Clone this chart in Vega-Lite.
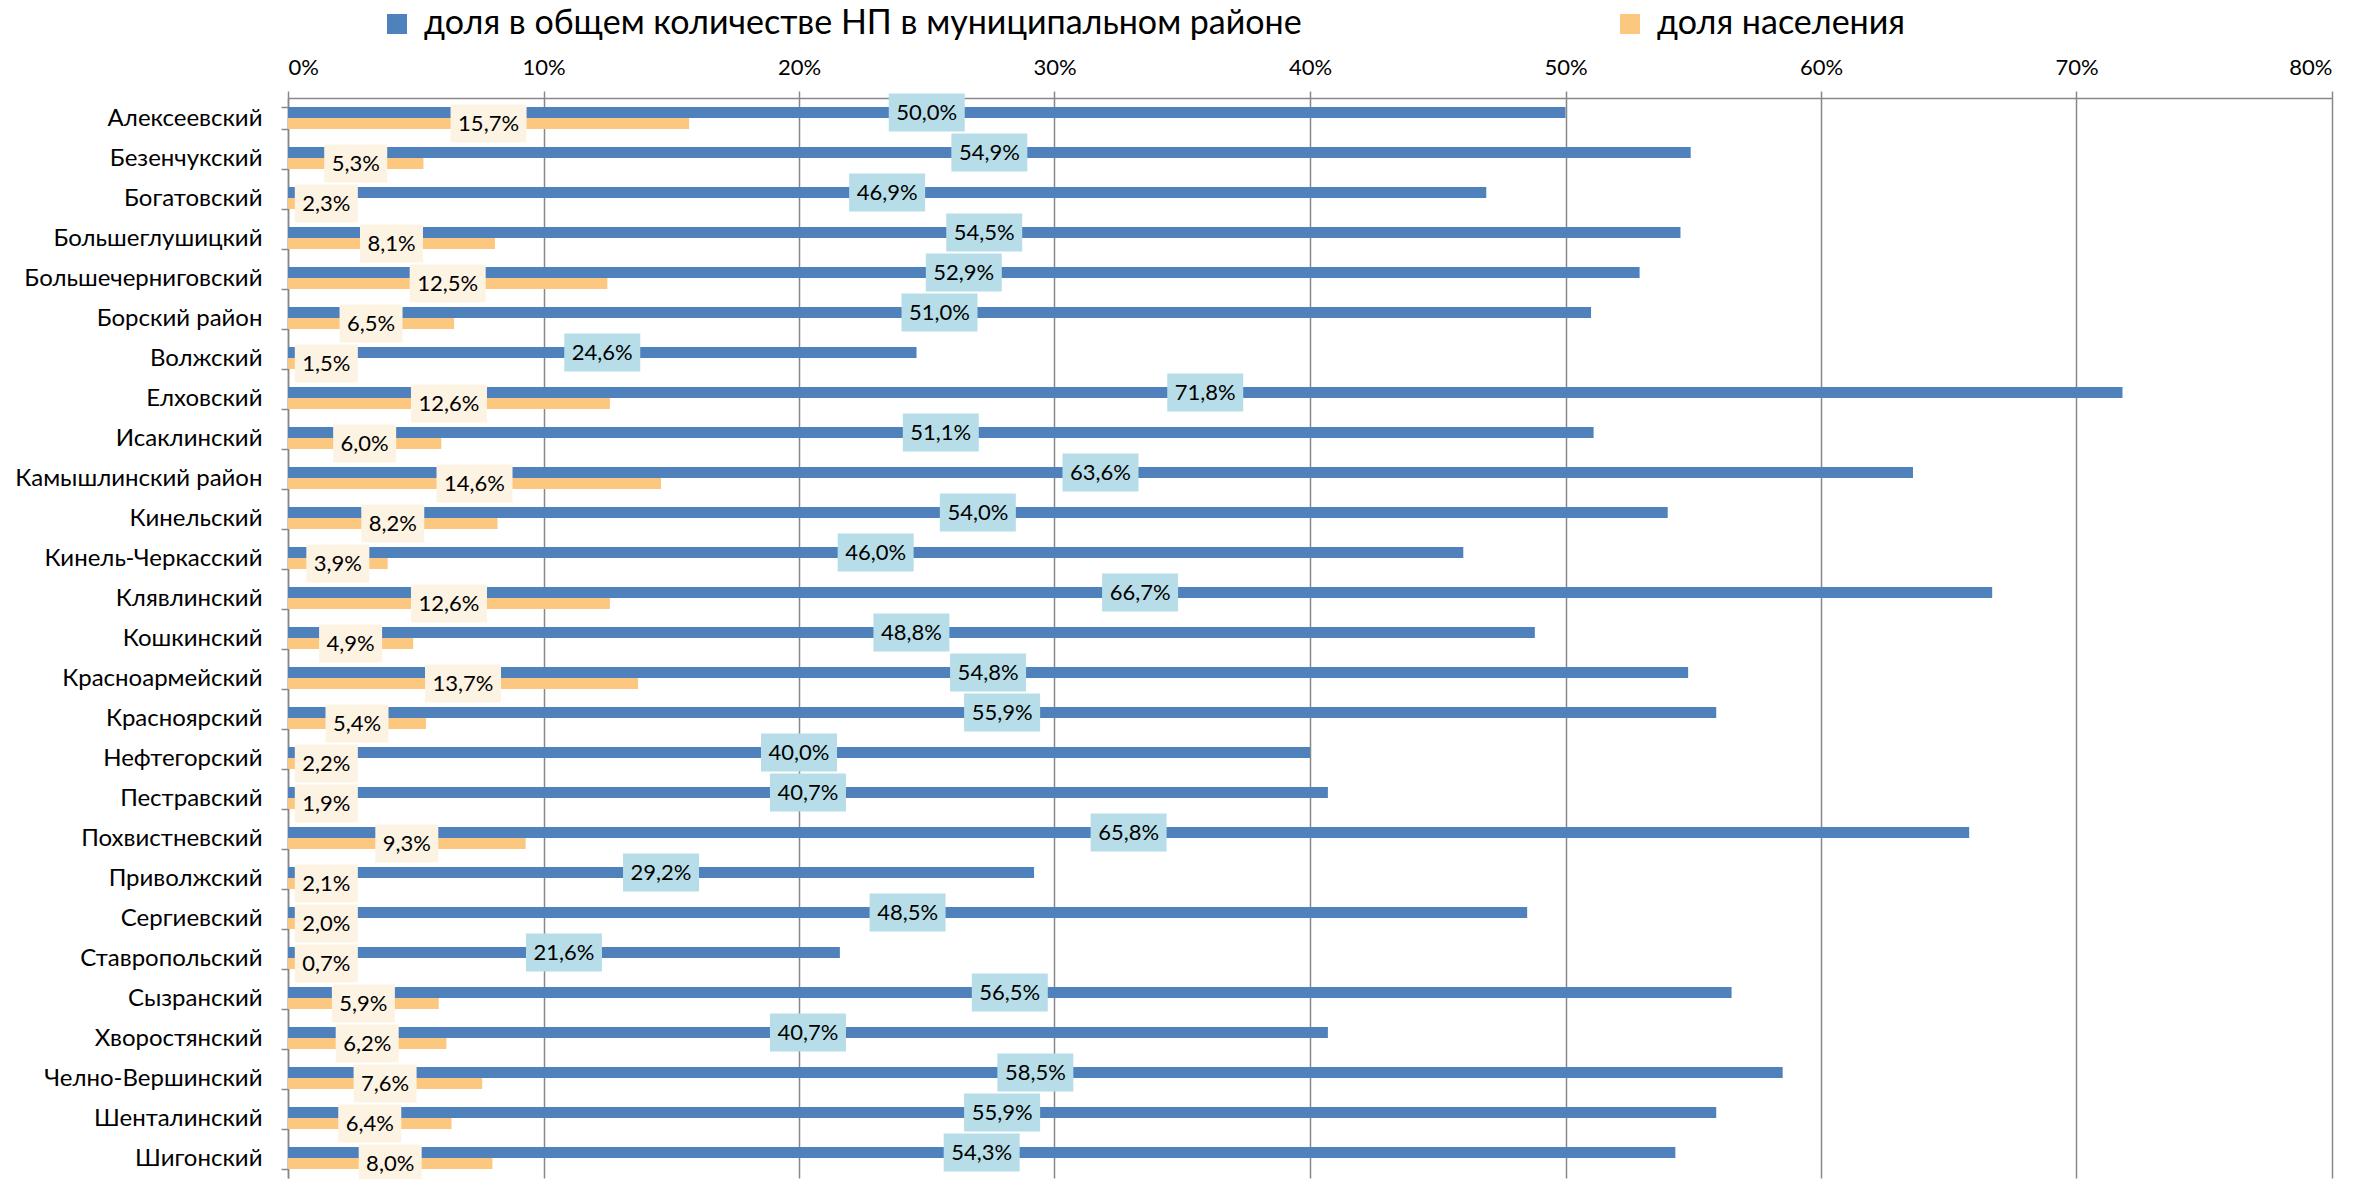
{
  "$schema": "https://vega.github.io/schema/vega-lite/v6.json",
  "width": 2044,
  "height": 1080,
  "autosize": {"type": "none"},
  "padding": {"left": 288, "top": 98, "right": 29, "bottom": 1},
  "background": "white",
  "config": {
    "locale": {"number": {"decimal": ",", "thousands": " ", "grouping": [3], "currency": ["", ""]}},
    "view": {"stroke": null},
    "font": "Lato"
  },
  "data": {
    "values": [
      {"r": "Алексеевский", "a": 0.500, "b": 0.157},
      {"r": "Безенчукский", "a": 0.549, "b": 0.053},
      {"r": "Богатовский", "a": 0.469, "b": 0.023},
      {"r": "Большеглушицкий", "a": 0.545, "b": 0.081},
      {"r": "Большечерниговский", "a": 0.529, "b": 0.125},
      {"r": "Борский район", "a": 0.510, "b": 0.065},
      {"r": "Волжский", "a": 0.246, "b": 0.015},
      {"r": "Елховский", "a": 0.718, "b": 0.126},
      {"r": "Исаклинский", "a": 0.511, "b": 0.060},
      {"r": "Камышлинский район", "a": 0.636, "b": 0.146},
      {"r": "Кинельский", "a": 0.540, "b": 0.082},
      {"r": "Кинель-Черкасский", "a": 0.460, "b": 0.039},
      {"r": "Клявлинский", "a": 0.667, "b": 0.126},
      {"r": "Кошкинский", "a": 0.488, "b": 0.049},
      {"r": "Красноармейский", "a": 0.548, "b": 0.137},
      {"r": "Красноярский", "a": 0.559, "b": 0.054},
      {"r": "Нефтегорский", "a": 0.400, "b": 0.022},
      {"r": "Пестравский", "a": 0.407, "b": 0.019},
      {"r": "Похвистневский", "a": 0.658, "b": 0.093},
      {"r": "Приволжский", "a": 0.292, "b": 0.021},
      {"r": "Сергиевский", "a": 0.485, "b": 0.020},
      {"r": "Ставропольский", "a": 0.216, "b": 0.007},
      {"r": "Сызранский", "a": 0.565, "b": 0.059},
      {"r": "Хворостянский", "a": 0.407, "b": 0.062},
      {"r": "Челно-Вершинский", "a": 0.585, "b": 0.076},
      {"r": "Шенталинский", "a": 0.559, "b": 0.064},
      {"r": "Шигонский", "a": 0.543, "b": 0.080}
    ]
  },
  "transform": [
    {"fold": ["a", "b"], "as": ["key", "v"]},
    {"calculate": "max(datum.v / 2, 0.015)", "as": "mid"}
  ],
  "encoding": {
    "y": {
      "field": "r", "type": "nominal", "sort": null,
      "scale": {"paddingInner": 0.45, "paddingOuter": 0.225},
      "axis": {
        "title": null, "domainColor": "#888888", "domainWidth": 1.5,
        "tickColor": "#888888", "tickSize": 7, "tickWidth": 1.5, "tickBand": "extent",
        "labelFontSize": 24, "labelColor": "#000000", "labelPadding": 19, "labelLimit": 400
      }
    },
    "yOffset": {"field": "key", "type": "nominal", "scale": {"domain": ["a", "b"], "paddingInner": 0, "paddingOuter": 0}}
  },
  "layer": [
    {
      "mark": {"type": "bar"},
      "encoding": {
        "x": {
          "field": "v", "type": "quantitative",
          "scale": {"domain": [0, 0.8], "nice": false},
          "axis": {
            "orient": "top", "title": null, "format": ".0%",
            "values": [0, 0.1, 0.2, 0.3, 0.4, 0.5, 0.6, 0.7, 0.8],
            "grid": true, "gridColor": "#888888", "gridWidth": 1.5,
            "domainColor": "#888888", "domainWidth": 1.5,
            "tickColor": "#888888", "tickSize": 7, "tickWidth": 1.5,
            "labelFontSize": 22, "labelColor": "#000000", "labelPadding": 12
          }
        },
        "color": {
          "field": "key", "type": "nominal",
          "scale": {"domain": ["a", "b"], "range": ["#4f81bd", "#fcc87f"]},
          "legend": {
            "orient": "none", "legendX": 92, "legendY": -91,
            "direction": "horizontal", "title": null,
            "symbolType": "square", "symbolSize": 400, "symbolStrokeWidth": 0,
            "labelFontSize": 34, "labelColor": "#000000", "labelOffset": 10,
            "labelLimit": 1500, "columnPadding": 311,
            "labelExpr": "datum.value == 'a' ? 'доля в общем количестве НП в муниципальном районе' : 'доля населения'"
          }
        }
      }
    },
    {
      "transform": [{"filter": "datum.key == 'a'"}],
      "mark": {"type": "point", "filled": true, "opacity": 1, "strokeWidth": 0, "fill": "#b7dee8", "shape": "M-1,-0.5H1V0.5H-1Z", "size": 5776},
      "encoding": {
        "x": {"field": "mid", "type": "quantitative"}
      }
    },
    {
      "transform": [{"filter": "datum.key == 'a'"}],
      "mark": {"type": "text", "fontSize": 22, "color": "#000000", "align": "center", "baseline": "middle"},
      "encoding": {
        "x": {"field": "mid", "type": "quantitative"},
        "text": {"field": "v", "type": "quantitative", "format": ".1%"}
      }
    },
    {
      "transform": [{"filter": "datum.key == 'b'"}],
      "mark": {"type": "point", "filled": true, "opacity": 1, "strokeWidth": 0, "fill": "#fdf3e3"},
      "encoding": {
        "x": {"field": "mid", "type": "quantitative"},
        "shape": {"condition": {"test": "datum.v >= 0.1", "value": "M-1,-0.5H1V0.5H-1Z"}, "value": "M-1,-0.6H1V0.6H-1Z"},
        "size": {"condition": {"test": "datum.v >= 0.1", "value": 5776}, "value": 3969}
      }
    },
    {
      "transform": [{"filter": "datum.key == 'b'"}],
      "mark": {"type": "text", "fontSize": 22, "color": "#000000", "align": "center", "baseline": "middle"},
      "encoding": {
        "x": {"field": "mid", "type": "quantitative"},
        "text": {"field": "v", "type": "quantitative", "format": ".1%"}
      }
    }
  ]
}
